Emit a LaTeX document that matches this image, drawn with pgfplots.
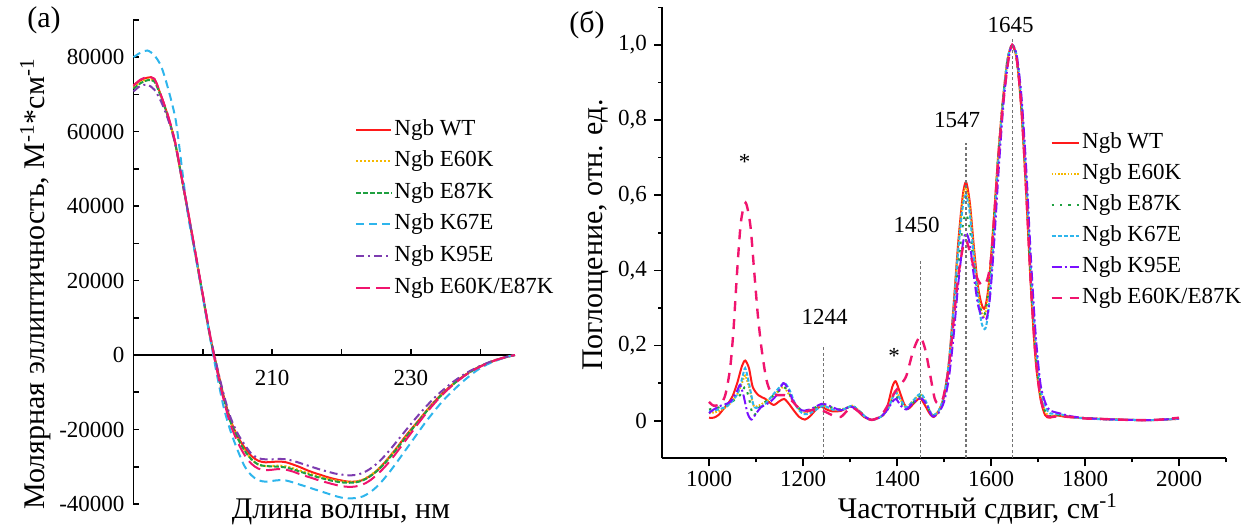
\documentclass[border=0pt]{standalone}
\usepackage{fontspec}
\setmainfont{Liberation Serif}
\usepackage{pgfplots}
\pgfplotsset{compat=1.18}
\definecolor{cwt}{HTML}{FF1A1A}
\definecolor{ce60}{HTML}{F5B800}
\definecolor{ce87}{HTML}{1FA040}
\definecolor{ck67}{HTML}{2EB5EC}
\definecolor{ck95a}{HTML}{7D3CB0}
\definecolor{ck95b}{HTML}{7A10FF}
\definecolor{cdbl}{HTML}{F0146E}
\newcommand{\tickfont}{\fontsize{11.5}{13}\selectfont}
\newcommand{\labfont}{\fontsize{15}{18}\selectfont}
\newcommand{\legfont}{\fontsize{11.5}{14}\selectfont}
\begin{document}
\begin{tikzpicture}
\useasboundingbox (0,0) rectangle (629.5pt,264.5pt);
% ---------------- panel (a)
\begin{axis}[
 at={(66.75pt,12.5pt)}, anchor=south west,
 scale only axis, width=190.75pt, height=242pt,
 xmin=190, xmax=245, ymin=-40000, ymax=90000,
 axis x line=middle, axis y line=left,
 axis line style={-, line width=0.9pt, black},
 hide obscured x ticks=false, hide obscured y ticks=false,
 scaled y ticks=false, scaled x ticks=false,
 xtick={200,210,220,230,240}, xticklabels={,210,,230,},
 ytick={-40000,-20000,0,20000,40000,60000,80000},
 yticklabels={-40000,-20000,0,20000,40000,60000,80000},
 minor ytick={-30000,-10000,10000,30000,50000,70000,90000},
 tick align=inside, major tick length=3pt, minor tick length=3pt,
 tick style={black, line width=0.8pt},
 tick label style={font=\tickfont},
 xticklabel style={yshift=-4pt},
 yticklabel style={xshift=-1pt},
 clip=false,
 xlabel={Длина волны, нм},
 ylabel={Молярная эллиптичность, М\textsuperscript{-1}*см\textsuperscript{-1}},
 xlabel style={at={(axis description cs:0.544,-0.0165)}, anchor=center, font=\labfont},
 ylabel style={at={(axis description cs:-0.257,0.4545)}, anchor=center, font=\labfont},
 legend style={at={(axis description cs:0.58,0.80)}, anchor=north west, draw=none, fill=none,
   font=\legfont, row sep=3.3pt, inner sep=0pt, nodes={inner sep=1pt, text height=8pt, text depth=2.5pt}},
 legend cell align=left,
 legend image code/.code={\draw[#1] (0cm,0cm) -- (0.62cm,0cm);},
 every axis plot/.append style={line width=1pt, smooth, tension=0.5},
]
\addplot[cwt, solid] coordinates {(190,72500)(191,73800)(192,74500)(193,74200)(194,69500)(195,64000)(196,57000)(197,47000)(198,37000)(199,26500)(200,16000)(201,5500)(202,-3000)(203,-11000)(204,-17500)(205,-21800)(206,-24800)(207,-27100)(208,-28400)(209,-28800)(210,-28700)(211,-28600)(212,-28800)(213,-29400)(214,-30100)(215,-30900)(216,-31600)(217,-32200)(218,-32800)(219,-33300)(220,-33700)(221,-34000)(222,-34000)(223,-33600)(224,-32600)(225,-31200)(226,-29300)(227,-27100)(228,-24800)(229,-22300)(230,-20000)(231,-17800)(232,-15500)(233,-13300)(234,-11300)(235,-9500)(236,-7900)(237,-6400)(238,-5100)(239,-4000)(240,-3000)(241,-2200)(242,-1500)(243,-900)(244,-400)(245,0)};
\addplot[ce60, dash pattern=on 1pt off 1pt] coordinates {(190,71800)(191,73300)(192,74000)(193,73700)(194,69300)(195,63800)(196,57000)(197,47000)(198,36800)(199,26300)(200,15800)(201,5300)(202,-3500)(203,-11500)(204,-18000)(205,-22300)(206,-25500)(207,-28000)(208,-29400)(209,-29800)(210,-29800)(211,-29700)(212,-29900)(213,-30400)(214,-31000)(215,-31600)(216,-32200)(217,-32700)(218,-33200)(219,-33600)(220,-33900)(221,-34100)(222,-34000)(223,-33500)(224,-32500)(225,-31100)(226,-29300)(227,-27200)(228,-24900)(229,-22500)(230,-20200)(231,-17900)(232,-15600)(233,-13400)(234,-11400)(235,-9600)(236,-7900)(237,-6400)(238,-5100)(239,-4000)(240,-3000)(242,-1500)(244,-400)(245,0)};
\addplot[ce87, dash pattern=on 2.5pt off 1pt] coordinates {(190,71500)(191,73000)(192,73800)(193,73500)(194,69200)(195,63800)(196,57000)(197,47000)(198,36800)(199,26300)(200,15800)(201,5300)(202,-3500)(203,-11500)(204,-18000)(205,-22300)(206,-25600)(207,-28000)(208,-29400)(209,-29800)(210,-29900)(211,-30000)(212,-30200)(213,-30700)(214,-31300)(215,-31900)(216,-32500)(217,-33000)(218,-33500)(219,-33900)(220,-34200)(221,-34300)(222,-34200)(223,-33700)(224,-32700)(225,-31300)(226,-29500)(227,-27400)(228,-25100)(229,-22700)(230,-20300)(231,-18000)(232,-15700)(233,-13500)(234,-11500)(235,-9700)(236,-8000)(237,-6500)(238,-5200)(239,-4000)(240,-3000)(242,-1500)(244,-400)(245,0)};
\addplot[ck67, dash pattern=on 4pt off 2.5pt] coordinates {(190,80000)(191,81200)(192,81800)(193,80500)(194,77500)(195,71500)(196,64000)(196.5,57500)(197,50000)(197.5,42500)(198,36000)(199,26000)(200,15500)(201,5000)(202,-5000)(203,-14000)(204,-20500)(205,-25500)(206,-29800)(207,-32300)(208,-33600)(209,-34000)(210,-33800)(211,-33600)(212,-33700)(213,-34200)(214,-34800)(215,-35400)(216,-36000)(217,-36600)(218,-37200)(219,-37800)(220,-38300)(221,-38500)(222,-38400)(223,-38000)(224,-37000)(225,-35500)(226,-33500)(227,-31200)(228,-28700)(229,-26100)(230,-23500)(231,-20900)(232,-18300)(233,-15900)(234,-13600)(235,-11500)(236,-9700)(237,-7900)(238,-6300)(239,-4800)(240,-3500)(241,-2500)(242,-1700)(243,-1000)(244,-400)(245,0)};
\addplot[ck95a, dash pattern=on 4pt off 2pt on 1pt off 2pt] coordinates {(190,70800)(191,72300)(192,72600)(193,71300)(194,68000)(195,63200)(196,56800)(197,47000)(198,37000)(199,26500)(200,16000)(201,5800)(202,-2800)(203,-10500)(204,-16800)(205,-21000)(206,-24000)(207,-26500)(208,-27700)(209,-28000)(210,-28000)(211,-27900)(212,-28000)(213,-28400)(214,-29000)(215,-29600)(216,-30200)(217,-30800)(218,-31300)(219,-31800)(220,-32100)(221,-32300)(222,-32200)(223,-31700)(224,-30700)(225,-29300)(226,-27500)(227,-25400)(228,-23100)(229,-20800)(230,-18500)(231,-16300)(232,-14200)(233,-12200)(234,-10400)(235,-8800)(236,-7300)(237,-6000)(238,-4800)(239,-3800)(240,-2900)(242,-1400)(244,-400)(245,0)};
\addplot[cdbl, dash pattern=on 7pt off 3pt] coordinates {(190,72300)(191,74000)(192,74600)(193,74200)(194,69600)(195,64200)(196,57300)(197,47300)(198,37200)(199,26800)(200,16200)(201,5700)(202,-3800)(203,-12000)(204,-18700)(205,-23300)(206,-26800)(207,-29200)(208,-30500)(209,-30900)(210,-30800)(211,-30600)(212,-30800)(213,-31300)(214,-32000)(215,-32600)(216,-33200)(217,-33800)(218,-34300)(219,-34800)(220,-35200)(221,-35400)(222,-35300)(223,-34800)(224,-33800)(225,-32300)(226,-30500)(227,-28400)(228,-26000)(229,-23500)(230,-21000)(231,-18500)(232,-16100)(233,-13800)(234,-11700)(235,-9800)(236,-8100)(237,-6600)(238,-5200)(239,-4100)(240,-3100)(242,-1500)(244,-400)(245,0)};
\legend{Ngb WT, Ngb E60K, Ngb E87K, Ngb K67E, Ngb K95E, Ngb E60K/E87K}
\node[font=\labfont] at (axis description cs:-0.2346,1.0) {(a)};
\end{axis}
% ---------------- panel (b)
\begin{axis}[
 at={(331pt,35.35pt)}, anchor=south west,
 scale only axis, width=282pt, height=225.45pt,
 xmin=900, xmax=2100, ymin=-0.1, ymax=1.1,
 axis x line=bottom, axis y line=left,
 axis line style={-, line width=1pt, black},
 scaled x ticks=false, scaled y ticks=false,
 xtick={1000,1200,1400,1600,1800,2000}, xticklabels={1000,1200,1400,1600,1800,2000},
 minor xtick={1100,1300,1500,1700,1900,2100},
 ytick={0,0.2,0.4,0.6,0.8,1.0}, yticklabels={0,{0,2},{0,4},{0,6},{0,8},{1,0}},
 minor ytick={0.1,0.3,0.5,0.7,0.9,1.1},
 tick align=outside, major tick length=4pt, minor tick length=2pt,
 tick style={black, line width=0.8pt},
 tick label style={font=\tickfont},
 xticklabel style={yshift=1pt},
 clip=false,
 xlabel={Частотный сдвиг, см\textsuperscript{-1}},
 ylabel={Поглощение, отн. ед.},
 xlabel style={at={(axis description cs:0.560,-0.112)}, anchor=center, font=\labfont},
 ylabel style={at={(axis description cs:-0.117,0.495)}, anchor=center, font=\labfont},
 legend style={at={(axis description cs:0.688,0.728)}, anchor=north west, draw=none, fill=none,
   font=\legfont, row sep=3pt, inner sep=0pt, nodes={inner sep=1pt, text height=8pt, text depth=2.5pt}},
 legend cell align=left,
 legend image code/.code={\draw[#1] (0cm,0cm) -- (0.48cm,0cm);},
 every axis plot/.append style={line width=1pt, smooth, tension=0.45},
]
\addplot[cwt, solid] coordinates {(1000,0.008)(1010,0.008)(1020,0.015)(1030,0.03)(1040,0.045)(1050,0.065)(1060,0.10)(1070,0.145)(1077,0.16)(1085,0.14)(1093,0.09)(1105,0.068)(1120,0.058)(1137,0.042)(1150,0.052)(1160,0.058)(1170,0.045)(1180,0.028)(1192,0.01)(1204,0.003)(1215,0.012)(1228,0.03)(1238,0.038)(1250,0.03)(1262,0.025)(1280,0.026)(1295,0.035)(1305,0.038)(1315,0.028)(1330,0.01)(1346,0.002)(1360,0.008)(1371,0.015)(1380,0.04)(1390,0.09)(1397,0.105)(1405,0.08)(1415,0.045)(1424,0.032)(1435,0.045)(1449,0.06)(1460,0.04)(1470,0.018)(1478,0.01)(1488,0.025)(1499,0.06)(1510,0.15)(1520,0.30)(1530,0.47)(1540,0.60)(1547,0.635)(1555,0.58)(1563,0.47)(1572,0.36)(1580,0.31)(1587,0.30)(1595,0.36)(1605,0.52)(1615,0.70)(1625,0.85)(1635,0.96)(1645,1.0)(1655,0.96)(1665,0.82)(1675,0.60)(1685,0.35)(1695,0.16)(1705,0.06)(1715,0.015)(1725,0.008)(1740,0.014)(1760,0.01)(1800,0.007)(1850,0.004)(1900,0.002)(1950,0.002)(2000,0.005)};
\addplot[ce60, dash pattern=on 0.8pt off 0.8pt] coordinates {(1000,0.02)(1020,0.025)(1040,0.04)(1060,0.07)(1070,0.10)(1077,0.12)(1085,0.09)(1095,0.04)(1105,0.04)(1120,0.05)(1140,0.07)(1158,0.09)(1170,0.07)(1185,0.04)(1200,0.022)(1215,0.025)(1235,0.04)(1245,0.04)(1262,0.03)(1280,0.03)(1295,0.035)(1305,0.04)(1318,0.028)(1333,0.01)(1346,0.002)(1365,0.01)(1380,0.03)(1392,0.07)(1398,0.08)(1408,0.055)(1420,0.035)(1432,0.05)(1450,0.07)(1462,0.045)(1475,0.015)(1488,0.025)(1500,0.065)(1510,0.15)(1520,0.29)(1530,0.46)(1540,0.59)(1547,0.62)(1555,0.57)(1563,0.46)(1572,0.35)(1580,0.29)(1587,0.28)(1595,0.35)(1605,0.51)(1615,0.70)(1625,0.85)(1635,0.96)(1645,1.0)(1655,0.96)(1665,0.83)(1675,0.62)(1685,0.37)(1695,0.18)(1705,0.07)(1715,0.025)(1725,0.012)(1745,0.015)(1770,0.01)(1800,0.007)(1850,0.004)(1900,0.002)(1950,0.002)(2000,0.006)};
\addplot[ce87, dash pattern=on 1.2pt off 3pt] coordinates {(1000,0.03)(1020,0.035)(1040,0.045)(1060,0.06)(1070,0.075)(1077,0.09)(1085,0.06)(1093,0.015)(1100,0.02)(1110,0.04)(1130,0.06)(1150,0.08)(1160,0.09)(1172,0.07)(1185,0.04)(1200,0.028)(1215,0.03)(1235,0.04)(1245,0.042)(1262,0.035)(1280,0.03)(1295,0.035)(1305,0.04)(1318,0.028)(1333,0.01)(1346,0.002)(1365,0.01)(1380,0.03)(1392,0.06)(1398,0.065)(1408,0.05)(1420,0.03)(1432,0.045)(1450,0.065)(1462,0.045)(1475,0.015)(1488,0.025)(1500,0.06)(1510,0.14)(1520,0.27)(1530,0.41)(1540,0.52)(1547,0.55)(1555,0.51)(1563,0.42)(1572,0.33)(1580,0.29)(1587,0.285)(1595,0.35)(1605,0.51)(1615,0.70)(1625,0.85)(1635,0.96)(1645,1.0)(1655,0.96)(1665,0.83)(1675,0.62)(1685,0.37)(1695,0.18)(1705,0.07)(1715,0.025)(1725,0.012)(1745,0.015)(1770,0.01)(1800,0.007)(1850,0.004)(1900,0.002)(1950,0.002)(2000,0.006)};
\addplot[ck67, dash pattern=on 2pt off 1pt] coordinates {(1000,0.025)(1020,0.03)(1040,0.04)(1060,0.07)(1070,0.11)(1077,0.14)(1085,0.10)(1095,0.04)(1105,0.035)(1120,0.045)(1140,0.075)(1160,0.10)(1172,0.08)(1185,0.04)(1200,0.018)(1215,0.02)(1235,0.035)(1245,0.04)(1262,0.03)(1280,0.028)(1295,0.035)(1305,0.04)(1318,0.028)(1333,0.01)(1346,0.002)(1365,0.01)(1380,0.03)(1392,0.065)(1398,0.075)(1408,0.055)(1420,0.035)(1432,0.05)(1450,0.072)(1462,0.05)(1475,0.015)(1488,0.025)(1500,0.065)(1510,0.15)(1520,0.29)(1530,0.45)(1540,0.57)(1547,0.60)(1555,0.55)(1563,0.44)(1572,0.33)(1580,0.26)(1588,0.245)(1595,0.30)(1605,0.47)(1615,0.68)(1625,0.84)(1635,0.96)(1645,1.0)(1655,0.97)(1665,0.85)(1675,0.65)(1685,0.40)(1695,0.21)(1705,0.09)(1715,0.04)(1725,0.02)(1745,0.018)(1770,0.01)(1800,0.006)(1850,0.003)(1900,0.002)(1950,0.002)(2000,0.005)};
\addplot[ck95b, dash pattern=on 5pt off 1.5pt on 1pt off 1.5pt] coordinates {(1000,0.02)(1010,0.03)(1025,0.04)(1045,0.05)(1060,0.08)(1066,0.095)(1073,0.07)(1082,0.02)(1090,0.003)(1098,0.015)(1110,0.035)(1130,0.05)(1145,0.07)(1158,0.10)(1168,0.085)(1180,0.05)(1197,0.028)(1215,0.03)(1240,0.045)(1255,0.04)(1280,0.028)(1295,0.035)(1304,0.037)(1318,0.025)(1333,0.01)(1346,0.002)(1365,0.01)(1380,0.03)(1390,0.05)(1398,0.058)(1408,0.04)(1420,0.03)(1432,0.045)(1450,0.06)(1462,0.045)(1475,0.012)(1488,0.02)(1500,0.05)(1510,0.11)(1520,0.22)(1530,0.36)(1540,0.47)(1547,0.50)(1555,0.47)(1563,0.39)(1572,0.31)(1580,0.28)(1590,0.27)(1598,0.33)(1607,0.48)(1617,0.68)(1627,0.85)(1637,0.96)(1645,1.0)(1655,0.97)(1665,0.86)(1675,0.67)(1685,0.43)(1695,0.23)(1705,0.10)(1715,0.05)(1725,0.028)(1745,0.02)(1770,0.012)(1800,0.007)(1850,0.004)(1900,0.002)(1950,0.002)(2000,0.006)};
\addplot[cdbl, dash pattern=on 5pt off 4pt, line width=1.2pt] coordinates {(1000,0.05)(1010,0.04)(1025,0.045)(1035,0.07)(1045,0.14)(1052,0.24)(1060,0.40)(1068,0.53)(1078,0.58)(1088,0.52)(1096,0.40)(1104,0.28)(1112,0.19)(1122,0.11)(1132,0.075)(1145,0.068)(1160,0.068)(1175,0.055)(1190,0.035)(1205,0.025)(1225,0.03)(1245,0.025)(1262,0.015)(1280,0.01)(1295,0.028)(1305,0.035)(1318,0.025)(1333,0.01)(1346,0.002)(1365,0.012)(1380,0.04)(1395,0.075)(1410,0.10)(1420,0.12)(1435,0.188)(1449,0.224)(1460,0.19)(1470,0.126)(1480,0.06)(1488,0.045)(1498,0.06)(1510,0.14)(1520,0.26)(1530,0.38)(1540,0.46)(1547,0.48)(1555,0.45)(1563,0.41)(1572,0.375)(1582,0.36)(1592,0.375)(1600,0.43)(1608,0.56)(1617,0.72)(1627,0.86)(1637,0.96)(1645,1.0)(1655,0.96)(1665,0.83)(1675,0.61)(1685,0.36)(1695,0.17)(1705,0.065)(1715,0.02)(1725,0.01)(1745,0.012)(1770,0.01)(1800,0.006)(1850,0.004)(1900,0.002)(1950,0.002)(2000,0.008)};
\legend{Ngb WT, Ngb E60K, Ngb E87K, Ngb K67E, Ngb K95E, Ngb E60K/E87K}
\addplot[forget plot, black!55, dash pattern=on 1.5pt off 1.2pt, line width=0.6pt, sharp plot] coordinates {(1244,-0.1)(1244,0.2)};
\addplot[forget plot, black!55, dash pattern=on 1.5pt off 1.2pt, line width=0.6pt, sharp plot] coordinates {(1450,-0.1)(1450,0.43)};
\addplot[forget plot, black!55, dash pattern=on 1.5pt off 1.2pt, line width=0.6pt, sharp plot] coordinates {(1547,-0.1)(1547,0.74)};
\addplot[forget plot, black!55, dash pattern=on 1.5pt off 1.2pt, line width=0.6pt, sharp plot] coordinates {(1645,-0.1)(1645,1.02)};
\node[font=\tickfont] at (axis cs:1642,1.053) {1645};
\node[font=\tickfont] at (axis cs:1528,0.80) {1547};
\node[font=\tickfont] at (axis cs:1442,0.52) {1450};
\node[font=\tickfont] at (axis cs:1246,0.276) {1244};
\node[font=\tickfont] at (axis cs:1076,0.688) {*};
\node[font=\tickfont] at (axis cs:1394,0.172) {*};
\node[font=\labfont] at (axis description cs:-0.133,0.961) {(б)};
\end{axis}
\end{tikzpicture}
\end{document}
